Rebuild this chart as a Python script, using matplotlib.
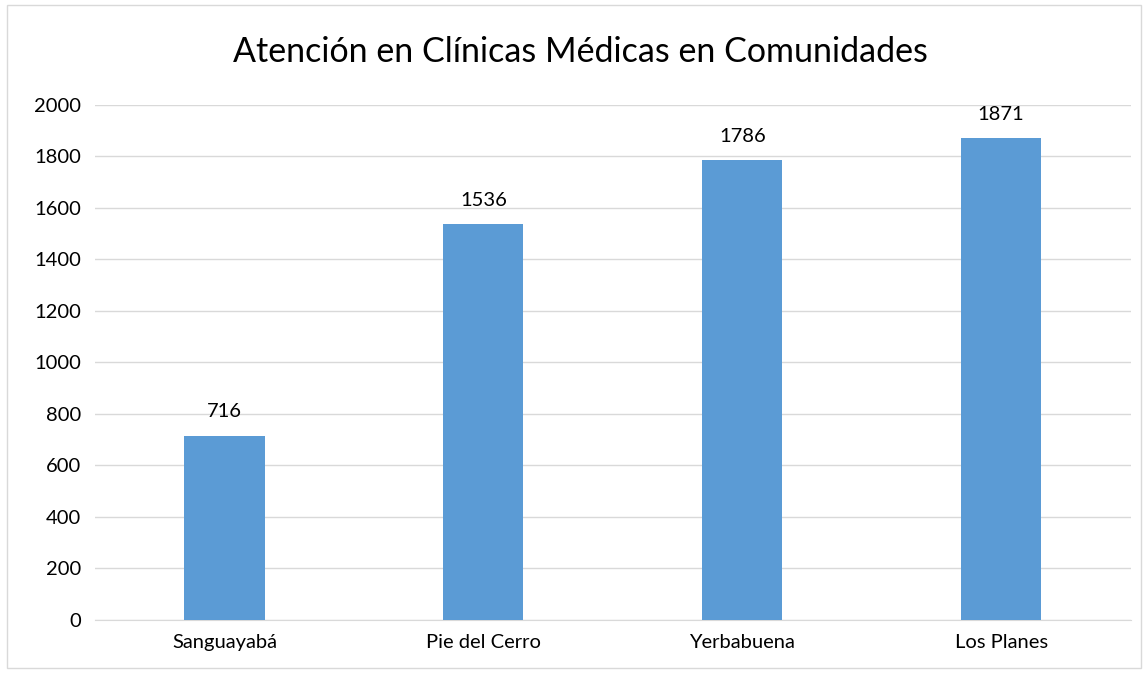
import matplotlib.pyplot as plt
from matplotlib.patches import Rectangle

plt.rcParams["font.family"] = ["Lato", "DejaVu Sans"]

communities = ["Sanguayabá", "Pie del Cerro", "Yerbabuena", "Los Planes"]
attendance = [716, 1536, 1786, 1871]
yticks = [0, 200, 400, 600, 800, 1000, 1200, 1400, 1600, 1800, 2000]

fig = plt.figure(figsize=(11.48, 6.73), dpi=100)
ax = fig.add_axes([0.0828, 0.0788, 0.902, 0.7652])

x = range(len(communities))
ax.bar(x, attendance, width=0.31, color="#5B9BD5", zorder=3)
for xi, v in zip(x, attendance):
    ax.annotate(str(v), (xi, v), xytext=(0, 11), textcoords="offset points",
                ha="center", va="bottom", fontsize=14.5, color="#000000")

ax.set_xlim(-0.5, len(communities) - 0.5)
ax.set_ylim(0, 2000)
ax.set_yticks(yticks)
ax.set_xticks(list(x))
ax.set_xticklabels(communities)
ax.tick_params(axis="both", length=0, labelsize=14.5, colors="#000000", pad=10)
ax.grid(axis="y", color="#D9D9D9", linewidth=1, zorder=0)
for side in ["left", "right", "top"]:
    ax.spines[side].set_visible(False)
ax.spines["bottom"].set_color("#D9D9D9")

fig.text(0.506, 0.922, "Atención en Clínicas Médicas en Comunidades",
         ha="center", va="center", fontsize=24.5, color="#000000")

fig.patches.append(Rectangle((0.006, 0.007), 0.988, 0.986, transform=fig.transFigure,
                             fill=False, edgecolor="#D9D9D9", linewidth=1))

fig.savefig("out.png", dpi=100)
